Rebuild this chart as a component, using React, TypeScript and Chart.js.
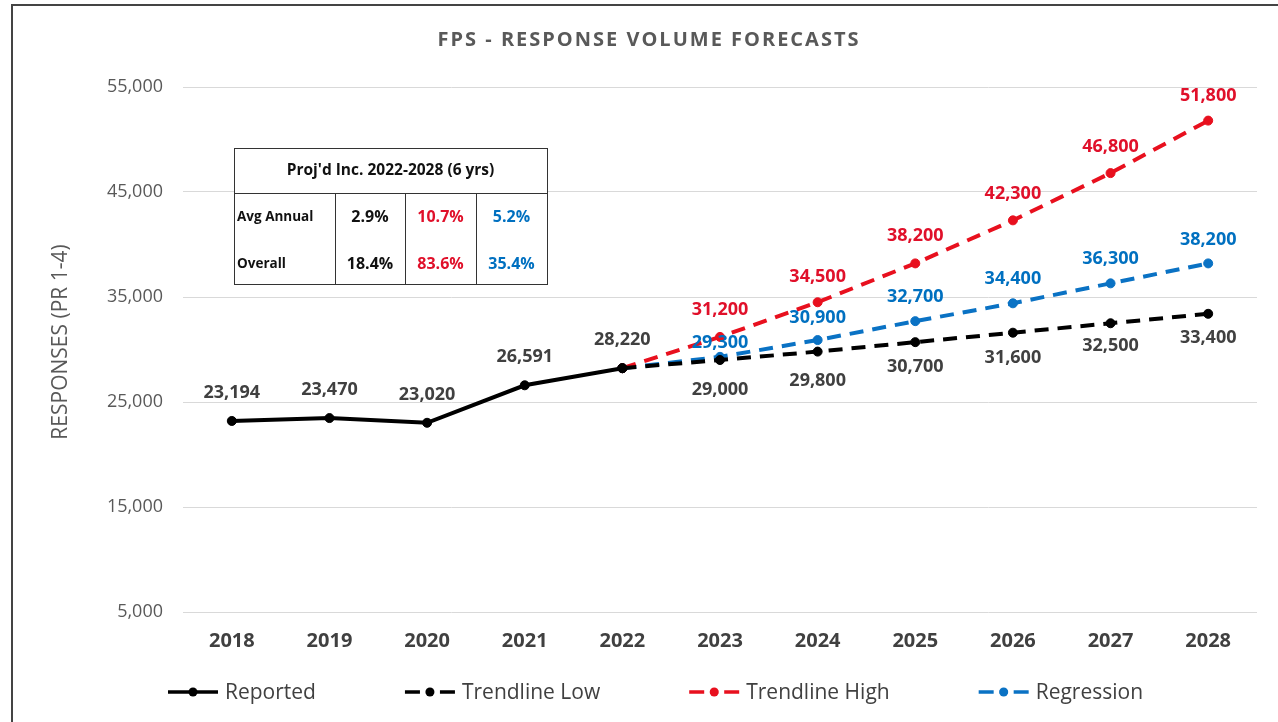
import React, { useEffect, useRef } from "react";
import { Chart, registerables } from "chart.js";

Chart.register(...registerables);

const years = ["2018", "2019", "2020", "2021", "2022", "2023", "2024", "2025", "2026", "2027", "2028"];
const reported = [23194, 23470, 23020, 26591, 28220, null, null, null, null, null, null];
const trendLow = [null, null, null, null, 28220, 29000, 29800, 30700, 31600, 32500, 33400];
const trendHigh = [null, null, null, null, 28220, 31200, 34500, 38200, 42300, 46800, 51800];
const regression = [null, null, null, null, 28220, 29300, 30900, 32700, 34400, 36300, 38200];
const seriesNames = ["Reported", "Trendline Low", "Trendline High", "Regression"];

const chartTitle = "FPS - RESPONSE VOLUME FORECASTS";
const yAxisTitle = "RESPONSES (PR 1-4)";
const tableTitle = "Proj'd Inc. 2022-2028 (6 yrs)";
const tableRowLabels = ["Avg Annual", "Overall"];
const tableLow = ["2.9%", "18.4%"];
const tableHigh = ["10.7%", "83.6%"];
const tableReg = ["5.2%", "35.4%"];

const yTicks = [5000, 15000, 25000, 35000, 45000, 55000];

const FONT = "'Open Sans', 'Noto Sans', sans-serif";
const BLACK = "#000000";
const RED = "#E8101E";
const BLUE = "#0A72C4";
const GREY = "#404040";
const RED_TXT = "#E0102A";
const BLUE_TXT = "#0070C0";

const fmt = (v: number) => v.toLocaleString("en-US");

const labelPlugin = {
  id: "customDraw",
  beforeDraw(chart: any) {
    const ctx = chart.ctx;
    ctx.save();
    ctx.fillStyle = "#ffffff";
    ctx.fillRect(0, 0, chart.width, chart.height);
    ctx.strokeStyle = "#444444";
    ctx.lineWidth = 2;
    ctx.beginPath();
    ctx.moveTo(12, 722);
    ctx.lineTo(12, 5);
    ctx.lineTo(1278, 5);
    ctx.stroke();
    ctx.restore();
  },
  afterDatasetsDraw(chart: any) {
    const ctx = chart.ctx;
    ctx.save();
    ctx.textAlign = "center";
    ctx.textBaseline = "middle";
    ctx.font = `bold 18px ${FONT}`;
    const cfg = [
      { ds: 0, color: GREY, from: 0, off: [-28, -28, -28, -28, -28] },
      { ds: 1, color: GREY, from: 5, off: [30, 29, 25, 25, 23, 24] },
      { ds: 2, color: RED_TXT, from: 5, off: [-27, -25, -28, -26, -26, -25] },
      { ds: 3, color: BLUE_TXT, from: 5, off: [-14, -22, -24, -24, -24, -24] },
    ];
    cfg.forEach((c) => {
      const meta = chart.getDatasetMeta(c.ds);
      const data = chart.data.datasets[c.ds].data;
      ctx.fillStyle = c.color;
      meta.data.forEach((pt: any, i: number) => {
        if (i < c.from || data[i] == null) return;
        const o = c.off[i - c.from] ?? -26;
        ctx.fillText(fmt(data[i] as number), pt.x, pt.y + o);
      });
    });
    ctx.restore();
  },
  afterDraw(chart: any) {
    const ctx = chart.ctx;
    ctx.save();
    // Title
    ctx.fillStyle = "#595959";
    ctx.font = `bold 20px ${FONT}`;
    (ctx as any).letterSpacing = "2px";
    ctx.textAlign = "center";
    ctx.textBaseline = "middle";
    ctx.fillText(chartTitle, 649, 40);
    (ctx as any).letterSpacing = "0px";

    // Y axis title
    ctx.save();
    ctx.translate(61, 342);
    ctx.rotate(-Math.PI / 2);
    ctx.font = `21px ${FONT}`;
    ctx.fillStyle = "#595959";
    ctx.fillText(yAxisTitle, 0, 0);
    ctx.restore();

    // Table
    const x0 = 234, x1 = 547, y0 = 148, yh = 193, y1 = 284;
    const cols = [335, 405, 476];
    ctx.fillStyle = "#ffffff";
    ctx.fillRect(x0, y0, x1 - x0, y1 - y0);
    ctx.strokeStyle = "#333333";
    ctx.lineWidth = 1;
    ctx.strokeRect(x0 + 0.5, y0 + 0.5, x1 - x0, y1 - y0);
    ctx.beginPath();
    ctx.moveTo(x0, yh + 0.5);
    ctx.lineTo(x1, yh + 0.5);
    cols.forEach((cx) => {
      ctx.moveTo(cx + 0.5, yh);
      ctx.lineTo(cx + 0.5, y1);
    });
    ctx.stroke();
    ctx.fillStyle = "#111111";
    ctx.font = `bold 15.5px ${FONT}`;
    ctx.textAlign = "center";
    ctx.fillText(tableTitle, (x0 + x1) / 2, 171);
    const rowY = [217, 264];
    const centers = [(cols[0] + cols[1]) / 2, (cols[1] + cols[2]) / 2, (cols[2] + x1) / 2];
    tableRowLabels.forEach((lab, r) => {
      ctx.font = `bold 13.5px ${FONT}`;
      ctx.textAlign = "left";
      ctx.fillStyle = "#111111";
      ctx.fillText(lab, x0 + 3, rowY[r]);
      ctx.font = `bold 16px ${FONT}`;
      ctx.textAlign = "center";
      ctx.fillStyle = "#111111";
      ctx.fillText(tableLow[r], centers[0], rowY[r]);
      ctx.fillStyle = RED_TXT;
      ctx.fillText(tableHigh[r], centers[1], rowY[r]);
      ctx.fillStyle = BLUE_TXT;
      ctx.fillText(tableReg[r], centers[2], rowY[r]);
    });

    // Legend
    const legendColors = [BLACK, BLACK, RED, BLUE];
    const legendDashed = [false, true, true, true];
    const ly = 692;
    let lx = 168;
    ctx.font = `21px ${FONT}`;
    seriesNames.forEach((name, i) => {
      ctx.strokeStyle = legendColors[i];
      ctx.fillStyle = legendColors[i];
      ctx.lineWidth = 3.5;
      ctx.beginPath();
      if (legendDashed[i]) {
        ctx.moveTo(lx, ly);
        ctx.lineTo(lx + 15, ly);
        ctx.moveTo(lx + 21, ly);
        ctx.lineTo(lx + 29, ly);
        ctx.moveTo(lx + 35, ly);
        ctx.lineTo(lx + 50, ly);
      } else {
        ctx.moveTo(lx, ly);
        ctx.lineTo(lx + 50, ly);
      }
      ctx.stroke();
      ctx.beginPath();
      ctx.arc(lx + 25, ly, 4.5, 0, Math.PI * 2);
      ctx.fill();
      ctx.fillStyle = "#404040";
      ctx.textAlign = "left";
      ctx.fillText(name, lx + 57, ly + 1);
      lx += 57 + ctx.measureText(name).width + 89;
    });
    ctx.restore();
  },
};

export default function App() {
  const ref = useRef<HTMLCanvasElement>(null);
  useEffect(() => {
    document.body.style.margin = "0";
    if (!ref.current) return;
    const mk = (label: string, data: any[], color: string, dashed: boolean, width: number) => ({
      label,
      data,
      borderColor: color,
      backgroundColor: color,
      pointBackgroundColor: color,
      pointBorderColor: color,
      borderWidth: width,
      borderDash: dashed ? [14, 9] : [],
      pointRadius: 4.5,
      pointBorderWidth: 1,
      pointHoverRadius: 4.5,
      tension: 0,
      spanGaps: false,
    });
    const chart = new Chart(ref.current, {
      type: "line",
      data: {
        labels: years,
        datasets: [
          mk(seriesNames[0], reported, BLACK, false, 4),
          mk(seriesNames[1], trendLow, BLACK, true, 4),
          mk(seriesNames[2], trendHigh, RED, true, 4),
          mk(seriesNames[3], regression, BLUE, true, 4),
        ],
      },
      options: {
        animation: false,
        responsive: false,
        layout: { padding: { left: 45, right: 21, top: 87, bottom: 65 } },
        plugins: {
          legend: { display: false },
          title: { display: false },
          tooltip: { enabled: false },
        },
        scales: {
          x: {
            offset: true,
            grid: { display: false, drawTicks: false },
            border: { display: false },
            ticks: { color: "#404040", font: { family: FONT, size: 20, weight: "bold" }, padding: 17 },
            afterFit: (s: any) => { s.height = 45; },
          },
          y: {
            min: 5000,
            max: 55000,
            afterBuildTicks: (s: any) => { s.ticks = yTicks.map((v) => ({ value: v })); },
            grid: { color: "#d9d9d9", lineWidth: 1, drawTicks: false },
            border: { display: false },
            ticks: {
              color: "#595959",
              font: { family: FONT, size: 18 },
              padding: 20,
              callback: (v: any) => fmt(Number(v)),
            },
            afterFit: (s: any) => { s.width = 138; },
          },
        },
      },
      plugins: [labelPlugin],
    });
    return () => chart.destroy();
  }, []);
  return (
    <div style={{ position: "absolute", left: 0, top: 0, width: 1278, height: 722, background: "#fff" }}>
      <canvas ref={ref} width={1278} height={722} style={{ display: "block" }} />
    </div>
  );
}
